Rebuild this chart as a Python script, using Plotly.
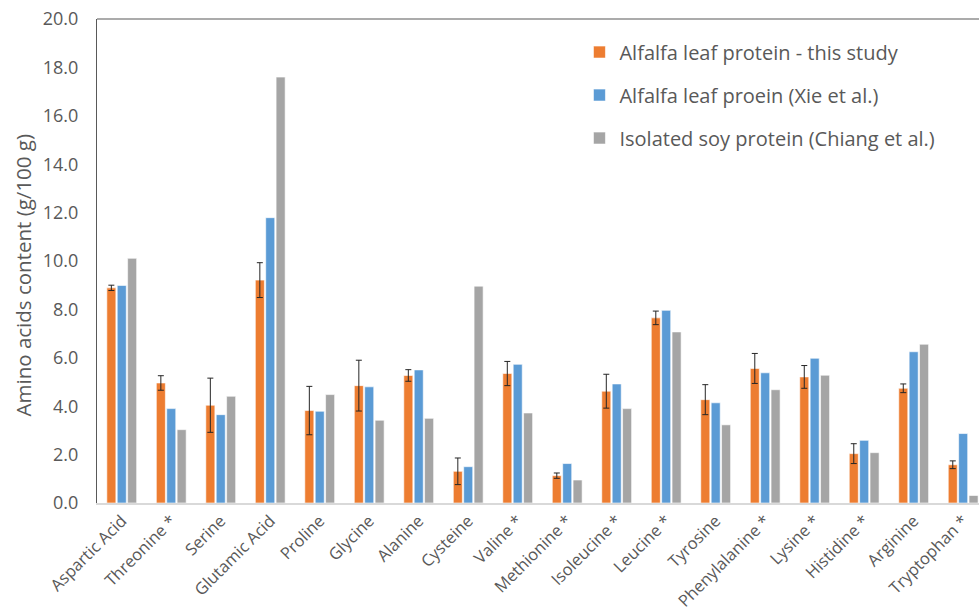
import plotly.graph_objects as go

# Amino acid composition, g per 100 g protein
amino_acids = [
    "Aspartic Acid", "Threonine *", "Serine", "Glutamic Acid", "Proline",
    "Glycine", "Alanine", "Cysteine", "Valine *", "Methionine *",
    "Isoleucine *", "Leucine *", "Tyrosine", "Phenylalanine *", "Lysine *",
    "Histidine *", "Arginine", "Tryptophan *",
]

this_study = [8.89, 4.96, 4.04, 9.21, 3.82, 4.85, 5.27, 1.31, 5.35, 1.13,
              4.62, 7.65, 4.27, 5.56, 5.21, 2.04, 4.74, 1.58]
this_study_sd = [0.11, 0.30, 1.12, 0.72, 1.00, 1.05, 0.24, 0.55, 0.50, 0.11,
                 0.70, 0.28, 0.62, 0.62, 0.47, 0.41, 0.18, 0.16]
xie = [8.99, 3.90, 3.65, 11.79, 3.79, 4.80, 5.50, 1.50, 5.73, 1.63,
       4.92, 7.96, 4.14, 5.38, 5.98, 2.59, 6.25, 2.87]
chiang_soy = [10.11, 3.03, 4.41, 17.60, 4.48, 3.42, 3.50, 8.96, 3.72, 0.95,
              3.90, 7.07, 3.23, 4.68, 5.28, 2.08, 6.56, 0.31]

series_names = [
    "Alfalfa leaf protein - this study",
    "Alfalfa leaf proein (Xie et al.)",
    "Isolated soy protein (Chiang et al.)",
]
colors = ["#ED7D31", "#5B9BD5", "#A5A5A5"]
y_title = "Amino acids content (g/100 g)"

FONT = "Open Sans"
TEXT = "#595959"

fig = go.Figure()
fig.add_trace(go.Bar(
    x=amino_acids, y=this_study, name=series_names[0],
    marker=dict(color=colors[0], line=dict(color="white", width=0.6)),
    error_y=dict(type="data", array=this_study_sd, visible=True,
                 color="#262626", thickness=1, width=3),
    legendgroup="a",
))
fig.add_trace(go.Bar(
    x=amino_acids, y=xie, name=series_names[1],
    marker=dict(color=colors[1], line=dict(color="white", width=0.6)),
    legendgroup="b",
))
fig.add_trace(go.Bar(
    x=amino_acids, y=chiang_soy, name=series_names[2],
    marker=dict(color=colors[2], line=dict(color="white", width=0.6)),
    legendgroup="c",
))

# frame line along the top of the plot area
fig.add_shape(type="line", xref="paper", yref="paper",
              x0=0, x1=1, y0=1, y1=1,
              line=dict(color="#595959", width=1.2))

# vertical axis title, sitting slightly below the axis midpoint
fig.add_annotation(
    text=y_title, xref="paper", yref="paper",
    x=-0.084, y=0.47, xanchor="center", yanchor="middle",
    textangle=-90, showarrow=False,
    font=dict(family=FONT, size=20.5, color=TEXT),
)

fig.update_layout(
    width=979, height=613,
    margin=dict(l=97, r=0, t=19, b=110),
    paper_bgcolor="white", plot_bgcolor="white",
    font=dict(family=FONT, color=TEXT, size=18),
    barmode="group", bargap=0.37, bargroupgap=0.13,
    showlegend=True,
    legend=dict(
        x=0.547, y=0.972, xanchor="left", yanchor="top",
        font=dict(family=FONT, size=20, color=TEXT),
        traceorder="grouped", tracegroupgap=14,
        bgcolor="rgba(0,0,0,0)",
    ),
    xaxis=dict(
        type="category",
        range=[-0.5, 17.32],
        tickangle=-45,
        tickfont=dict(family=FONT, size=16.5, color=TEXT),
        showline=True, linecolor="#D9D9D9", linewidth=1.5,
        ticks="", showgrid=False, automargin=False,
    ),
    yaxis=dict(
        range=[0, 20], dtick=2, tickformat=".1f",
        tickfont=dict(family=FONT, size=18, color=TEXT),
        showline=True, linecolor="#595959", linewidth=1.2,
        ticks="", showgrid=False, zeroline=False, automargin=False,
        ticklabelstandoff=14,
    ),
)

fig.write_html("out.html")
